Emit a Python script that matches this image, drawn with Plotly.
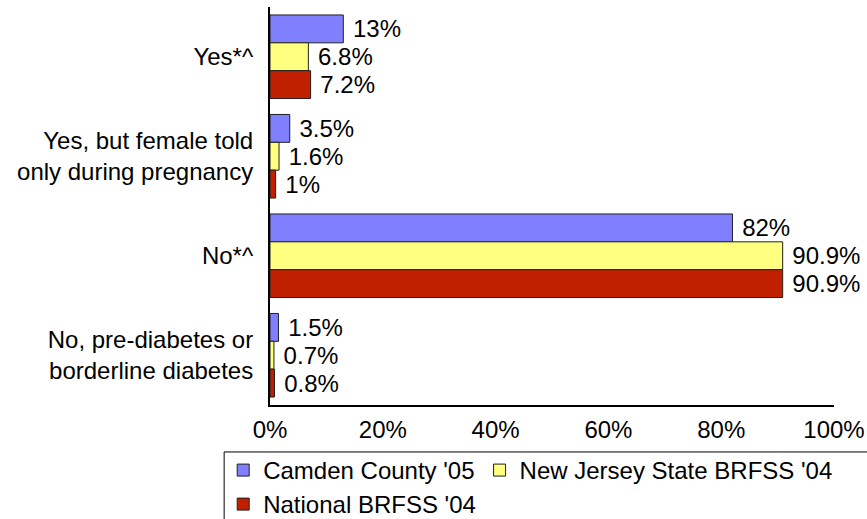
import plotly.graph_objects as go

categories = ["Yes*^", "Yes, but female told<br>only during pregnancy", "No*^",
              "No, pre-diabetes or<br>borderline diabetes"]
series_names = ["Camden County '05", "New Jersey State BRFSS '04", "National BRFSS '04"]
camden = [13, 3.5, 82, 1.5]
new_jersey = [6.8, 1.6, 90.9, 0.7]
national = [7.2, 1.0, 90.9, 0.8]
colors = ["#8080FF", "#FFFF80", "#C02000"]
legend_ids = ["legend", "legend", "legend2"]
x_ticks = [0, 20, 40, 60, 80, 100]
x_tick_labels = ["0%", "20%", "40%", "60%", "80%", "100%"]

FONT = "Liberation Sans, Arial, sans-serif"

fig = go.Figure()
for name, vals, col, lg in zip(series_names, [camden, new_jersey, national], colors, legend_ids):
    fig.add_trace(go.Bar(
        y=categories, x=vals, name=name, orientation="h", legend=lg,
        marker=dict(color=col, line=dict(color="#202020", width=1)),
        text=[f" {v:g}%" for v in vals], textposition="outside",
        textfont=dict(family=FONT, size=24, color="black"),
        constraintext="none", cliponaxis=False, hoverinfo="skip",
    ))

legend_common = dict(orientation="h", xanchor="left", yanchor="top",
                     font=dict(family=FONT, size=24, color="black"),
                     bgcolor="rgba(0,0,0,0)", borderwidth=0, itemwidth=30)

fig.update_layout(
    width=867, height=519,
    margin=dict(l=270, r=33, t=7, b=114, autoexpand=False),
    paper_bgcolor="white", plot_bgcolor="white",
    barmode="group", bargap=0.16, bargroupgap=0,
    font=dict(family=FONT, size=24, color="black"),
    showlegend=True,
    legend=dict(x=-0.083, y=-0.108, **legend_common),
    legend2=dict(x=-0.083, y=-0.1935, **legend_common),
    xaxis=dict(range=[0, 100], tickvals=x_ticks, ticktext=x_tick_labels,
               showgrid=False, zeroline=False, showline=True, linecolor="black",
               linewidth=2, ticks="", ticklabelstandoff=2,
               tickfont=dict(family=FONT, size=24, color="black")),
    yaxis=dict(autorange="reversed", showgrid=False, zeroline=False, showline=True,
               linecolor="black", linewidth=2, ticks="", ticklabelstandoff=10,
               tickfont=dict(family=FONT, size=24, color="black")),
    shapes=[dict(type="rect", xref="paper", yref="paper",
                 x0=-0.0813, x1=1.2, y0=-0.118, y1=-0.6,
                 line=dict(color="black", width=1), fillcolor="rgba(0,0,0,0)")],
)

fig.write_html("out.html", config={"displayModeBar": False},
               post_script="document.body.style.margin='0';document.body.style.padding='0';")
